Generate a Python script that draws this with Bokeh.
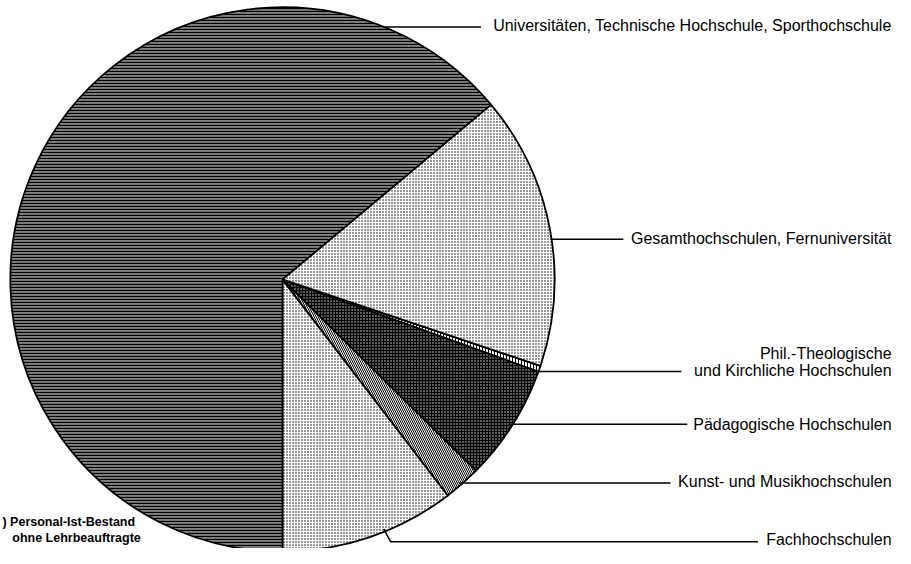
import math
from bokeh.plotting import figure
from bokeh.models import Range1d
from bokeh.embed import file_html
from bokeh.resources import INLINE
from bokeh.core.properties import value

# ---- data (share of staff, %), counter-clockwise starting at the bottom ----
categories = [
    "Fachhochschulen",
    "Kunst- und Musikhochschulen",
    "Pädagogische Hochschulen",
    "Phil.-Theologische und Kirchliche Hochschulen",
    "Gesamthochschulen, Fernuniversität",
    "Universitäten, Technische Hochschule, Sporthochschule",
]
shares = [10.4, 2.2, 6.9, 0.35, 16.25, 63.9]
footnote = [") Personal-Ist-Bestand", "ohne Lehrbeauftragte"]

# ---- styles ----
styles = [
    dict(fill_color="white", hatch_pattern="dot", hatch_color="black", hatch_scale=3, hatch_weight=1.4),
    dict(fill_color="white", hatch_pattern="left_diagonal_line", hatch_color="black", hatch_scale=4, hatch_weight=1.0),
    dict(fill_color="#5a5a5a", hatch_pattern="cross", hatch_color="black", hatch_scale=3, hatch_weight=1.0),
    dict(fill_color="white", hatch_pattern="vertical_line", hatch_color="black", hatch_scale=3, hatch_weight=1.0),
    dict(fill_color="white", hatch_pattern="dot", hatch_color="black", hatch_scale=3, hatch_weight=1.1),
    dict(fill_color="#808080", hatch_pattern="horizontal_line", hatch_color="black", hatch_scale=3, hatch_weight=1.2),
]

W, H = 911, 564
def Y(v):
    return H - v

p = figure(width=895, height=548, output_backend="svg", toolbar_location=None,
           x_range=Range1d(0, W), y_range=Range1d(0, H - 4), min_border=0)
p.axis.visible = False
p.grid.visible = False
p.outline_line_color = None
p.background_fill_color = "white"

cx, cy, R = 287, Y(289), 277
total = sum(shares)
start = -math.pi / 2
for share, st in zip(shares, styles):
    end = start + share / total * 2 * math.pi
    p.wedge(x=cx, y=cy, radius=R, start_angle=start, end_angle=end,
            line_color="black", line_width=1.8, **st)
    start = end

FONT = value("Liberation Sans")
FS = "16px"
TX = 907  # right edge of labels

# leader lines (layout) in reference pixel space
leaders = [
    ([390, 489], [31, 31]),
    ([560, 634], [248, 248]),
    ([545, 693], [383, 383]),
    ([519, 699], [437, 437]),
    ([467, 682], [497, 497]),
    ([390, 397, 771], [544, 557, 557]),
]
for xs, ys in leaders:
    p.line(xs, [Y(v) for v in ys], line_color="black", line_width=1.5)

label_rows = [
    (["Universitäten, Technische Hochschule, Sporthochschule"], [30]),
    (["Gesamthochschulen, Fernuniversität"], [247]),
    (["Phil.-Theologische", "und Kirchliche Hochschulen"], [365, 382]),
    (["Pädagogische Hochschulen"], [437]),
    (["Kunst- und Musikhochschulen"], [496]),
    (["Fachhochschulen"], [555]),
]
for texts, ys in label_rows:
    p.text(x=[TX] * len(texts), y=[Y(v) for v in ys], text=texts, text_align="right",
           text_baseline="middle", text_font=FONT, text_font_size=FS, text_color="black")

p.text(x=[2, 12], y=[Y(537), Y(553)], text=footnote, text_align="left", text_baseline="middle",
       text_font=FONT, text_font_size="12.5px", text_font_style="bold", text_color="black")

open("out.html", "w").write(file_html(p, INLINE))
